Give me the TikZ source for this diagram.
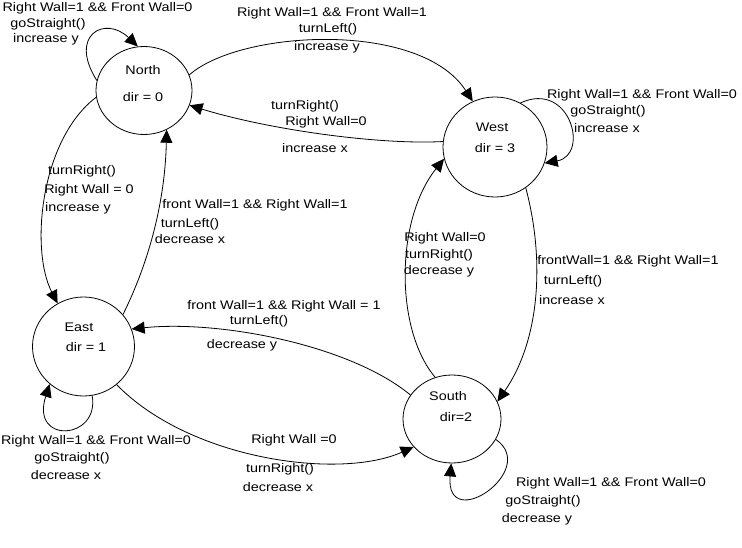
\documentclass[tikz,border=0pt]{standalone}
\usepackage{fontspec}
\setmainfont{Liberation Sans}[FakeStretch=1.15]
\usetikzlibrary{shapes.geometric,arrows.meta}

\begin{document}
\begin{tikzpicture}[x=1pt,y=-1pt,line width=0.8pt,
    every node/.style={font=\fontsize{12.5}{15}\selectfont,inner sep=0pt},
    state/.style={draw,ellipse},
    arr/.style={-{Triangle[length=13pt,width=12pt]}}]
  \useasboundingbox (0,0) rectangle (742,548);
  \node[state,minimum width=96pt,minimum height=88pt] (N) at (144,90.5) {};
  \node[state,minimum width=104pt,minimum height=100pt] (W) at (495,147) {};
  \node[state,minimum width=102pt,minimum height=99pt] (E) at (83.5,346.5) {};
  \node[state,minimum width=98pt,minimum height=88pt] (S) at (452,419) {};
  \node (Nname) at (143,70) {North};  \node (Ndir) at (143,97) {dir = 0};
  \node (Wname) at (492,127) {West};  \node (Wdir) at (495,148) {dir = 3};
  \node (Ename) at (79,327) {East};   \node (Edir) at (86,347) {dir = 1};
  \node (Sname) at (448,396) {South}; \node (Sdir) at (456,417) {dir=2};

  \draw[arr] (N.168) .. controls (68,35) and (105,15) .. (N.98);
  \draw[arr] (N.19) .. controls (240,30) and (420,20) .. (W.116);
  \draw[arr] (W.174) .. controls (380,145) and (270,130) .. (N.342);
  \draw[arr] (N.188) .. controls (40,140) and (30,250) .. (E.121);
  \draw[arr] (E.39) .. controls (150,260) and (165,200) .. (N.300);
  \draw[arr] (E.280) .. controls (100,440) and (30,445) .. (E.228);
  \draw[arr] (E.311) .. controls (190,460) and (340,480) .. (S.216);
  \draw[arr] (S.150) .. controls (350,345) and (220,320) .. (E.20);
  \draw[arr] (S.335) .. controls (540,470) and (445,535) .. (S.269);
  \draw[arr] (W.307) .. controls (545,260) and (540,340) .. (S.21);
  \draw[arr] (S.112) .. controls (395,330) and (395,220) .. (W.193);
  \draw[arr] (W.60) .. controls (570,80) and (590,155) .. (W.342);

  \node (nn1) at (97.5,8) {Right Wall=1 \&\& Front Wall=0};
  \node (nn2) at (48,24) {goStraight()};
  \node (nn3) at (46,39) {increase y};

  \node (nw1) at (332,13) {Right Wall=1 \&\& Front Wall=1};
  \node (nw2) at (328,29) {turnLeft()};
  \node (nw3) at (327,47) {increase y};

  \node (wn1) at (305,106) {turnRight()};
  \node (wn2) at (326,122) {Right Wall=0};
  \node (wn3) at (315,148) {increase x};

  \node (ww1) at (642,95) {Right Wall=1 \&\& Front Wall=0};
  \node (ww2) at (608,111) {goStraight()};
  \node (ww3) at (607,128) {increase x};

  \node (ne1) at (82,171) {turnRight()};
  \node (ne2) at (89,190) {Right Wall = 0};
  \node (ne3) at (78,208) {increase y};

  \node (en1) at (255,205) {front Wall=1 \&\& Right Wall=1};
  \node (en2) at (190,224) {turnLeft()};
  \node (en3) at (190,239) {decrease x};

  \node (sw1) at (445,238) {Right Wall=0};
  \node (sw2) at (439,255) {turnRight()};
  \node (sw3) at (439,271) {decrease y};

  \node (ws1) at (628,261) {frontWall=1 \&\& Right Wall=1};
  \node (ws2) at (573,281) {turnLeft()};
  \node (ws3) at (572,300) {increase x};

  \node (se1) at (284,306) {front Wall=1 \&\& Right Wall = 1};
  \node (se2) at (259,321) {turnLeft()};
  \node (se3) at (242,345) {decrease y};

  \node (ee1) at (96,441) {Right Wall=1 \&\& Front Wall=0};
  \node (ee2) at (72,458) {goStraight()};
  \node (ee3) at (66,475) {decrease x};

  \node (es1) at (294,440) {Right Wall =0};
  \node (es2) at (280,469) {turnRight()};
  \node (es3) at (278,487) {decrease x};

  \node (ss1) at (611,483) {Right Wall=1 \&\& Front Wall=0};
  \node (ss2) at (543,501) {goStraight()};
  \node (ss3) at (537,519) {decrease y};
\end{tikzpicture}
\end{document}
